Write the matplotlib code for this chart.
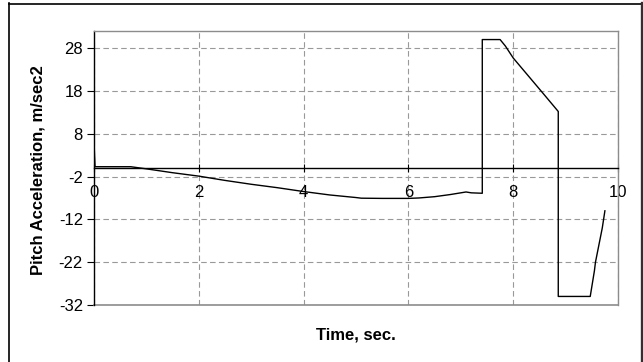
import numpy as np
import matplotlib.pyplot as plt
from matplotlib.lines import Line2D

plt.rcParams['font.family'] = ['Liberation Sans', 'DejaVu Sans']
plt.rcParams['axes.unicode_minus'] = False

# pitch acceleration trace
time_s = [0.0, 0.02, 0.7, 1.0, 1.5, 2.0, 2.5, 3.0, 3.5, 4.0, 4.5, 5.0, 5.1,
          5.5, 6.0, 6.2, 6.5, 6.8, 7.1, 7.2, 7.41, 7.41, 7.75, 7.85, 8.0,
          8.2, 8.4, 8.6, 8.86, 8.86, 9.47, 9.55, 9.57, 9.7, 9.75]
pitch_acc = [5.8, 0.3, 0.3, -0.2, -1.1, -1.9, -2.9, -3.8, -4.6, -5.5, -6.3,
             -6.9, -7.05, -7.1, -7.1, -7.0, -6.7, -6.2, -5.6, -5.8, -5.9,
             30.0, 30.0, 28.5, 25.7, 22.8, 19.9, 17.0, 13.2, -30.0, -30.0,
             -24.0, -22.0, -14.0, -10.0]

yticks = [-32, -22, -12, -2, 8, 18, 28]
xticks = [0, 2, 4, 6, 8, 10]

W, H = 643, 362
fig = plt.figure(figsize=(W / 100, H / 100), dpi=100)
ax = fig.add_axes([94 / W, (H - 305) / H, (618 - 94) / W, (305 - 31) / H])

ax.plot(time_s, pitch_acc, color='black', lw=1.0, zorder=3)

ax.set_xlim(0, 10)
ax.set_ylim(-32, 32)
ax.set_xticks(xticks)
ax.set_yticks(yticks)
ax.grid(True, color='#999999', lw=0.8, linestyle=(0, (5, 3)))
ax.set_axisbelow(True)

for s in ['top', 'right']:
    ax.spines[s].set_color('#8c8c8c')
    ax.spines[s].set_linewidth(1.0)
ax.spines['left'].set_color('black')
ax.spines['left'].set_linewidth(1.0)
ax.spines['bottom'].set_position(('data', 0))
ax.spines['bottom'].set_color('black')
ax.spines['bottom'].set_linewidth(1.0)
ax.axhline(-32, color='#8c8c8c', lw=1.2, clip_on=False, zorder=2)

ax.tick_params(axis='y', direction='out', length=5, width=0.8, pad=3,
               labelsize=12)
ax.tick_params(axis='x', direction='inout', length=6, width=0.8, pad=9,
               labelsize=12)

fig.text(38 / W, 1 - 170 / H, 'Pitch Acceleration, m/sec2', rotation=90,
         ha='center', va='center', fontsize=12, fontweight='bold')
fig.text(356 / W, 1 - 335 / H, 'Time, sec.', ha='center', va='center',
         fontsize=12, fontweight='bold')

# chart frame
def px(x, y):
    return x / W, 1 - y / H

fig.add_artist(Line2D(*zip(px(9, 3), px(9, 362)), color='black', lw=1.2))
fig.add_artist(Line2D(*zip(px(9, 3.5), px(641, 3.5)), color='black', lw=1.2))
fig.add_artist(Line2D(*zip(px(641.5, 3), px(641.5, 362)), color='#303030',
                      lw=2.4))

fig.savefig('out.png', dpi=100)
